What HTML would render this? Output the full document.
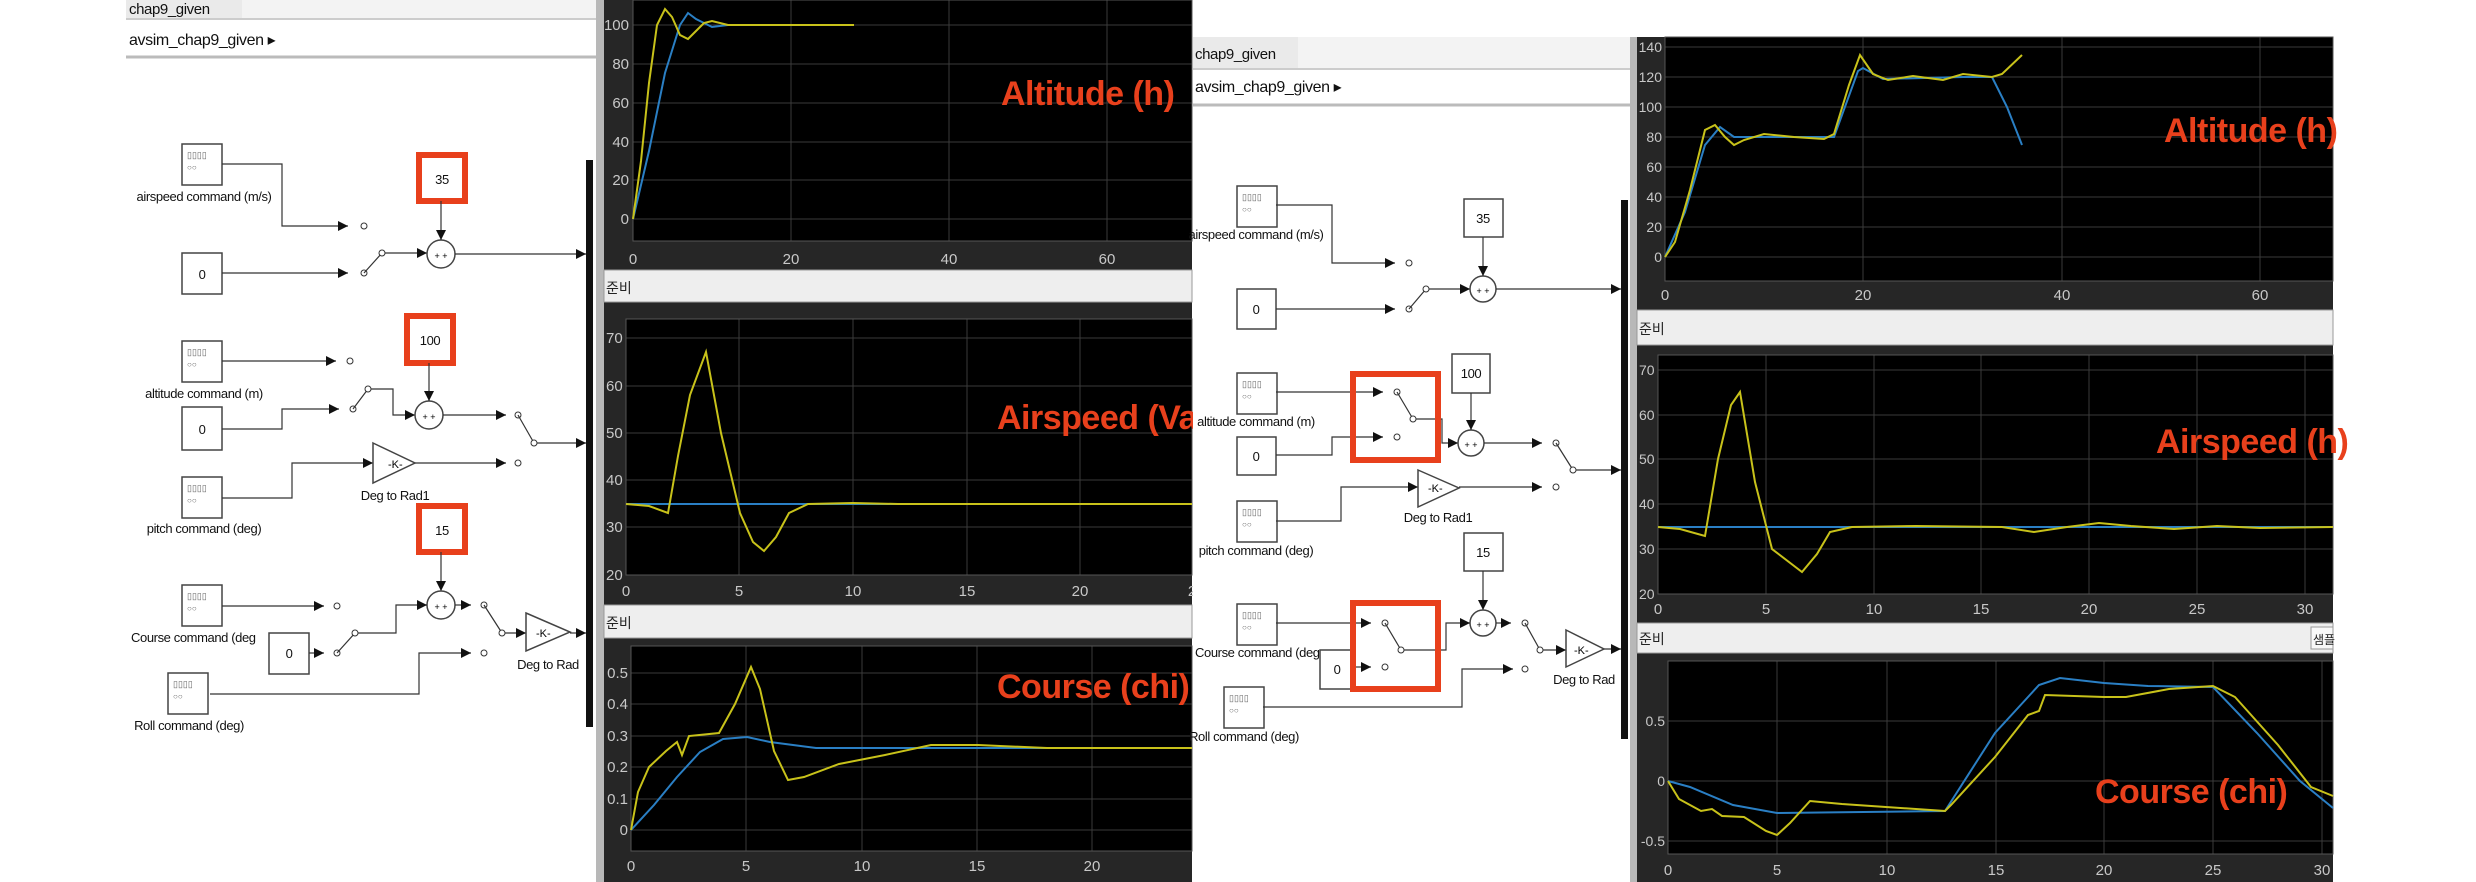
<!DOCTYPE html>
<html><head><meta charset="utf-8"><style>
html,body{margin:0;padding:0;background:#fff;}
svg{display:block;}
text{font-family:"Liberation Sans","Noto Sans CJK KR",sans-serif;}
.lb{font-size:13px;fill:#111;letter-spacing:-0.4px;}
.tk{font-size:15px;fill:#c8c8c8;}
.ttl{font-size:34px;font-weight:bold;fill:#e8401c;letter-spacing:-0.5px;}
.ln{stroke:#333;stroke-width:1.2;fill:none;}
.gr{stroke:#3a3a3a;stroke-width:1;}
.y{stroke:#c8c21a;stroke-width:2;fill:none;}
.b{stroke:#2a7fc4;stroke-width:2;fill:none;}
.blk{fill:#fff;stroke:#444;stroke-width:1.5;}
.sw{fill:#fff;stroke:#333;stroke-width:1;}
.red{fill:none;stroke:#e8401c;stroke-width:6;}
</style></head><body>
<svg width="2476" height="882" viewBox="0 0 2476 882" xmlns="http://www.w3.org/2000/svg">
<defs>
<marker id="a" viewBox="0 0 10 10" refX="10" refY="5" markerWidth="10" markerHeight="10" markerUnits="userSpaceOnUse" orient="auto"><path d="M0,0 L10,5 L0,10z" fill="#111"/></marker>
<g id="fw"><rect x="0" y="0" width="40" height="41" class="blk"/><text x="5" y="14" style="font-size:9px;fill:#666">▯▯▯▯</text><text x="5" y="26" style="font-size:8px;fill:#666">○○</text></g>
</defs>

<!-- ===== LEFT SIMULINK PANEL ===== -->
<rect x="126" y="0" width="478" height="882" fill="#fff"/>
<rect x="126" y="0" width="116" height="19" fill="#eaeaea"/>
<text x="129" y="14" class="lb" style="font-size:15px">chap9_given</text>
<rect x="242" y="0" width="362" height="19" fill="#f3f3f3"/>
<line x1="126" y1="19" x2="604" y2="19" stroke="#ccc" stroke-width="2"/>
<text x="129" y="45" class="lb" style="font-size:16px">avsim_chap9_given ▸</text>
<line x1="126" y1="57" x2="604" y2="57" stroke="#bbb" stroke-width="3"/>

<!-- row1 -->
<use href="#fw" x="182" y="144"/>
<text x="204" y="201" class="lb" text-anchor="middle">airspeed command (m/s)</text>
<polyline points="222,164 282,164 282,226 348,226" class="ln" marker-end="url(#a)"/>
<circle cx="364" cy="226" r="3" class="sw"/>
<rect x="182" y="253" width="40" height="41" class="blk"/><text x="202" y="279" class="lb" text-anchor="middle">0</text>
<polyline points="222,273 348,273" class="ln" marker-end="url(#a)"/>
<circle cx="364" cy="273" r="3" class="sw"/>
<line x1="364" y1="273" x2="382" y2="253" class="ln"/><circle cx="382" cy="253" r="3" class="sw"/>
<polyline points="385,253 427,253" class="ln" marker-end="url(#a)"/>
<circle cx="441" cy="254" r="14" class="blk"/><text x="441" y="259" style="font-size:9px" text-anchor="middle">+ +</text>
<rect x="421" y="157" width="43" height="42" fill="#fff" stroke="#444"/><rect x="419" y="155" width="46" height="46" class="red"/>
<text x="442" y="184" class="lb" text-anchor="middle">35</text>
<polyline points="441,201 441,240" class="ln" marker-end="url(#a)"/>
<polyline points="455,254 586,254" class="ln" marker-end="url(#a)"/>

<!-- row2 -->
<use href="#fw" x="182" y="341"/>
<text x="204" y="398" class="lb" text-anchor="middle">altitude command (m)</text>
<polyline points="222,361 336,361" class="ln" marker-end="url(#a)"/><circle cx="350" cy="361" r="3" class="sw"/>
<rect x="182" y="407" width="40" height="43" class="blk"/><text x="202" y="434" class="lb" text-anchor="middle">0</text>
<polyline points="222,429 282,429 282,409 339,409" class="ln" marker-end="url(#a)"/><circle cx="353" cy="409" r="3" class="sw"/>
<line x1="353" y1="409" x2="368" y2="389" class="ln"/><circle cx="368" cy="389" r="3" class="sw"/>
<polyline points="371,389 393,389 393,415 415,415" class="ln" marker-end="url(#a)"/>
<circle cx="429" cy="415" r="14" class="blk"/><text x="429" y="420" style="font-size:9px" text-anchor="middle">+ +</text>
<rect x="409" y="318" width="43" height="43" fill="#fff" stroke="#444"/><rect x="407" y="316" width="46" height="47" class="red"/>
<text x="430" y="345" class="lb" text-anchor="middle">100</text>
<polyline points="429,363 429,401" class="ln" marker-end="url(#a)"/>
<polyline points="443,415 506,415" class="ln" marker-end="url(#a)"/><circle cx="518" cy="415" r="3" class="sw"/>
<line x1="518" y1="415" x2="534" y2="443" class="ln"/><circle cx="534" cy="443" r="3" class="sw"/>
<polyline points="537,443 586,443" class="ln" marker-end="url(#a)"/>

<!-- pitch -->
<use href="#fw" x="182" y="477"/>
<text x="204" y="533" class="lb" text-anchor="middle">pitch command (deg)</text>
<polyline points="222,498 292,498 292,463 373,463" class="ln" marker-end="url(#a)"/>
<polygon points="373,443 415,463 373,483" class="blk"/><text x="388" y="468" style="font-size:11px">-K-</text>
<text x="395" y="500" class="lb" text-anchor="middle">Deg to Rad1</text>
<polyline points="415,463 506,463" class="ln" marker-end="url(#a)"/><circle cx="518" cy="463" r="3" class="sw"/>

<!-- course -->
<rect x="421" y="508" width="43" height="42" fill="#fff" stroke="#444"/><rect x="419" y="506" width="46" height="46" class="red"/>
<text x="442" y="535" class="lb" text-anchor="middle">15</text>
<polyline points="441,552 441,591" class="ln" marker-end="url(#a)"/>
<circle cx="441" cy="605" r="14" class="blk"/><text x="441" y="610" style="font-size:9px" text-anchor="middle">+ +</text>
<use href="#fw" x="182" y="585"/>
<text x="131" y="642" class="lb">Course command (deg</text>
<polyline points="222,606 324,606" class="ln" marker-end="url(#a)"/><circle cx="337" cy="606" r="3" class="sw"/>
<rect x="269" y="633" width="40" height="41" class="blk"/><text x="289" y="658" class="lb" text-anchor="middle">0</text>
<polyline points="309,653 324,653" class="ln" marker-end="url(#a)"/><circle cx="337" cy="653" r="3" class="sw"/>
<line x1="337" y1="653" x2="355" y2="633" class="ln"/><circle cx="355" cy="633" r="3" class="sw"/>
<polyline points="358,633 396,633 396,605 427,605" class="ln" marker-end="url(#a)"/>
<polyline points="455,605 471,605" class="ln" marker-end="url(#a)"/><circle cx="484" cy="605" r="3" class="sw"/>
<line x1="484" y1="605" x2="502" y2="633" class="ln"/><circle cx="502" cy="633" r="3" class="sw"/>
<polyline points="505,633 526,633" class="ln" marker-end="url(#a)"/>
<polygon points="526,613 570,632 526,651" class="blk"/><text x="536" y="637" style="font-size:11px">-K-</text>
<text x="548" y="669" class="lb" text-anchor="middle">Deg to Rad</text>
<polyline points="570,633 586,633" class="ln" marker-end="url(#a)"/>
<use href="#fw" x="168" y="673"/>
<text x="189" y="730" class="lb" text-anchor="middle">Roll command (deg)</text>
<polyline points="210,694 419,694 419,653 471,653" class="ln" marker-end="url(#a)"/><circle cx="484" cy="653" r="3" class="sw"/>
<rect x="586" y="160" width="7" height="567" fill="#111"/>

<!-- ===== LEFT PLOT WINDOW ===== -->
<rect x="596" y="0" width="8" height="882" fill="#b8b8b8"/>
<rect x="604" y="0" width="588" height="882" fill="#262626"/>
<!-- plot1 -->
<rect x="633" y="0" width="559" height="241" fill="#000"/>
<g class="gr"><line x1="791" y1="0" x2="791" y2="241"/><line x1="949" y1="0" x2="949" y2="241"/><line x1="1107" y1="0" x2="1107" y2="241"/>
<line x1="633" y1="25" x2="1192" y2="25"/><line x1="633" y1="64" x2="1192" y2="64"/><line x1="633" y1="103" x2="1192" y2="103"/><line x1="633" y1="142" x2="1192" y2="142"/><line x1="633" y1="180" x2="1192" y2="180"/><line x1="633" y1="219" x2="1192" y2="219"/></g>
<rect x="633" y="0" width="559" height="241" fill="none" stroke="#555"/>
<g class="tk" text-anchor="end"><text x="629" y="30">100</text><text x="629" y="69">80</text><text x="629" y="108">60</text><text x="629" y="147">40</text><text x="629" y="185">20</text><text x="629" y="224">0</text></g>
<g class="tk" text-anchor="middle"><text x="633" y="264">0</text><text x="791" y="264">20</text><text x="949" y="264">40</text><text x="1107" y="264">60</text></g>
<polyline class="b" points="633,219 649,151 665,73 680,25 688,13 696,19 712,27 728,25 854,25"/>
<polyline class="y" points="633,219 641,161 649,83 657,25 665,9 672,17 680,35 688,39 696,31 704,23 712,21 728,25 854,25"/>
<text x="1001" y="105" class="ttl">Altitude (h)</text>
<rect x="604" y="270" width="588" height="32" fill="#eee" stroke="#999"/>
<text x="606" y="293" style="font-size:14px;fill:#222">준비</text>
<!-- plot2 -->
<rect x="626" y="319" width="566" height="256" fill="#000"/>
<g class="gr"><line x1="739" y1="319" x2="739" y2="575"/><line x1="853" y1="319" x2="853" y2="575"/><line x1="967" y1="319" x2="967" y2="575"/><line x1="1080" y1="319" x2="1080" y2="575"/>
<line x1="626" y1="338" x2="1192" y2="338"/><line x1="626" y1="386" x2="1192" y2="386"/><line x1="626" y1="433" x2="1192" y2="433"/><line x1="626" y1="480" x2="1192" y2="480"/><line x1="626" y1="527" x2="1192" y2="527"/></g>
<rect x="626" y="319" width="566" height="256" fill="none" stroke="#555"/>
<g class="tk"><text x="606" y="343">70</text><text x="606" y="391">60</text><text x="606" y="438">50</text><text x="606" y="485">40</text><text x="606" y="532">30</text><text x="606" y="580">20</text></g>
<g class="tk" text-anchor="middle"><text x="626" y="596">0</text><text x="739" y="596">5</text><text x="853" y="596">10</text><text x="967" y="596">15</text><text x="1080" y="596">20</text><text x="1192" y="596">2</text></g>
<line x1="626" y1="504" x2="1192" y2="504" class="b"/>
<polyline class="y" points="626,504 649,506 668,513 678,456 690,395 706,352 721,433 740,513 753,542 764,551 776,537 789,513 808,504 853,503 898,504 1192,504"/>
<text x="997" y="429" class="ttl">Airspeed (Va)</text>
<rect x="604" y="605" width="588" height="33" fill="#eee" stroke="#999"/>
<text x="606" y="628" style="font-size:14px;fill:#222">준비</text>
<!-- plot3 -->
<rect x="631" y="646" width="561" height="205" fill="#000"/>
<g class="gr"><line x1="746" y1="646" x2="746" y2="851"/><line x1="862" y1="646" x2="862" y2="851"/><line x1="977" y1="646" x2="977" y2="851"/><line x1="1092" y1="646" x2="1092" y2="851"/>
<line x1="631" y1="673" x2="1192" y2="673"/><line x1="631" y1="704" x2="1192" y2="704"/><line x1="631" y1="736" x2="1192" y2="736"/><line x1="631" y1="767" x2="1192" y2="767"/><line x1="631" y1="799" x2="1192" y2="799"/><line x1="631" y1="830" x2="1192" y2="830"/></g>
<rect x="631" y="646" width="561" height="205" fill="none" stroke="#555"/>
<g class="tk" text-anchor="end"><text x="628" y="678">0.5</text><text x="628" y="709">0.4</text><text x="628" y="741">0.3</text><text x="628" y="772">0.2</text><text x="628" y="804">0.1</text><text x="628" y="835">0</text></g>
<g class="tk" text-anchor="middle"><text x="631" y="871">0</text><text x="746" y="871">5</text><text x="862" y="871">10</text><text x="977" y="871">15</text><text x="1092" y="871">20</text></g>
<polyline class="b" points="631,830 654,805 677,777 700,752 723,739 747,737 770,742 816,748 1192,748"/>
<polyline class="y" points="631,830 638,792 649,767 666,751 677,742 682,755 689,736 719,733 735,704 751,667 760,689 774,751 788,780 804,777 839,764 885,755 931,745 978,745 1047,748 1192,748"/>
<text x="997" y="698" class="ttl">Course (chi)</text>

<!-- ===== RIGHT SIMULINK PANEL ===== -->
<rect x="1193" y="37" width="444" height="845" fill="#fff"/>
<rect x="1193" y="37" width="105" height="32" fill="#eaeaea"/>
<rect x="1298" y="37" width="339" height="32" fill="#f3f3f3"/>
<text x="1195" y="59" class="lb" style="font-size:15px">chap9_given</text>
<line x1="1193" y1="69" x2="1637" y2="69" stroke="#ccc" stroke-width="2"/>
<text x="1195" y="92" class="lb" style="font-size:16px">avsim_chap9_given ▸</text>
<line x1="1193" y1="105" x2="1637" y2="105" stroke="#bbb" stroke-width="3"/>

<use href="#fw" x="1237" y="186"/>
<text x="1256" y="239" class="lb" text-anchor="middle">airspeed command (m/s)</text>
<polyline points="1276,205 1332,205 1332,263 1395,263" class="ln" marker-end="url(#a)"/><circle cx="1409" cy="263" r="3" class="sw"/>
<rect x="1237" y="289" width="39" height="40" class="blk"/><text x="1256" y="314" class="lb" text-anchor="middle">0</text>
<polyline points="1276,309 1395,309" class="ln" marker-end="url(#a)"/><circle cx="1409" cy="309" r="3" class="sw"/>
<line x1="1409" y1="309" x2="1426" y2="289" class="ln"/><circle cx="1426" cy="289" r="3" class="sw"/>
<polyline points="1429,289 1470,289" class="ln" marker-end="url(#a)"/>
<circle cx="1483" cy="289" r="13" class="blk"/><text x="1483" y="294" style="font-size:9px" text-anchor="middle">+ +</text>
<rect x="1464" y="199" width="39" height="38" class="blk"/><text x="1483" y="223" class="lb" text-anchor="middle">35</text>
<polyline points="1483,237 1483,276" class="ln" marker-end="url(#a)"/>
<polyline points="1496,289 1621,289" class="ln" marker-end="url(#a)"/>

<use href="#fw" x="1237" y="373"/>
<text x="1256" y="426" class="lb" text-anchor="middle">altitude command (m)</text>
<polyline points="1276,392 1383,392" class="ln" marker-end="url(#a)"/><circle cx="1397" cy="392" r="3" class="sw"/>
<line x1="1397" y1="392" x2="1413" y2="419" class="ln"/><circle cx="1413" cy="419" r="3" class="sw"/>
<rect x="1237" y="437" width="39" height="38" class="blk"/><text x="1256" y="461" class="lb" text-anchor="middle">0</text>
<polyline points="1276,455 1332,455 1332,437 1383,437" class="ln" marker-end="url(#a)"/><circle cx="1397" cy="437" r="3" class="sw"/>
<polyline points="1416,419 1442,419 1442,443 1458,443" class="ln" marker-end="url(#a)"/>
<rect x="1353" y="374" width="85" height="86" class="red"/>
<circle cx="1471" cy="443" r="13" class="blk"/><text x="1471" y="448" style="font-size:9px" text-anchor="middle">+ +</text>
<rect x="1452" y="354" width="38" height="39" class="blk"/><text x="1471" y="378" class="lb" text-anchor="middle">100</text>
<polyline points="1471,393 1471,430" class="ln" marker-end="url(#a)"/>
<polyline points="1484,443 1542,443" class="ln" marker-end="url(#a)"/><circle cx="1556" cy="443" r="3" class="sw"/>
<line x1="1556" y1="443" x2="1573" y2="470" class="ln"/><circle cx="1573" cy="470" r="3" class="sw"/>
<polyline points="1576,470 1621,470" class="ln" marker-end="url(#a)"/>

<use href="#fw" x="1237" y="501"/>
<text x="1256" y="555" class="lb" text-anchor="middle">pitch command (deg)</text>
<polyline points="1276,521 1341,521 1341,487 1418,487" class="ln" marker-end="url(#a)"/>
<polygon points="1418,470 1459,488 1418,507" class="blk"/><text x="1428" y="492" style="font-size:11px">-K-</text>
<text x="1438" y="522" class="lb" text-anchor="middle">Deg to Rad1</text>
<polyline points="1459,487 1542,487" class="ln" marker-end="url(#a)"/><circle cx="1556" cy="487" r="3" class="sw"/>

<rect x="1464" y="533" width="39" height="38" class="blk"/><text x="1483" y="557" class="lb" text-anchor="middle">15</text>
<polyline points="1483,571 1483,610" class="ln" marker-end="url(#a)"/>
<circle cx="1483" cy="623" r="13" class="blk"/><text x="1483" y="628" style="font-size:9px" text-anchor="middle">+ +</text>
<use href="#fw" x="1237" y="604"/>
<text x="1195" y="657" class="lb">Course command (deg</text>
<polyline points="1276,623 1371,623" class="ln" marker-end="url(#a)"/><circle cx="1385" cy="623" r="3" class="sw"/>
<line x1="1385" y1="623" x2="1401" y2="650" class="ln"/><circle cx="1401" cy="650" r="3" class="sw"/>
<rect x="1320" y="650" width="35" height="39" class="blk"/><text x="1337" y="674" class="lb" text-anchor="middle">0</text>
<polyline points="1355,667 1371,667" class="ln" marker-end="url(#a)"/><circle cx="1385" cy="667" r="3" class="sw"/>
<polyline points="1404,650 1446,650 1446,623 1470,623" class="ln" marker-end="url(#a)"/>
<rect x="1353" y="603" width="85" height="86" class="red"/>
<polyline points="1496,623 1511,623" class="ln" marker-end="url(#a)"/><circle cx="1525" cy="623" r="3" class="sw"/>
<line x1="1525" y1="623" x2="1540" y2="650" class="ln"/><circle cx="1540" cy="650" r="3" class="sw"/>
<polyline points="1543,650 1566,650" class="ln" marker-end="url(#a)"/>
<polygon points="1566,630 1604,649 1566,667" class="blk"/><text x="1574" y="654" style="font-size:11px">-K-</text>
<text x="1584" y="684" class="lb" text-anchor="middle">Deg to Rad</text>
<polyline points="1604,649 1621,649" class="ln" marker-end="url(#a)"/>
<use href="#fw" x="1224" y="687"/>
<text x="1244" y="741" class="lb" text-anchor="middle">Roll command (deg)</text>
<polyline points="1263,707 1462,707 1462,669 1513,669" class="ln" marker-end="url(#a)"/><circle cx="1525" cy="669" r="3" class="sw"/>
<rect x="1621" y="200" width="7" height="539" fill="#111"/>

<!-- ===== RIGHT PLOT WINDOW ===== -->
<rect x="1630" y="37" width="7" height="845" fill="#b8b8b8"/>
<rect x="1637" y="37" width="696" height="845" fill="#262626"/>
<rect x="1665" y="37" width="668" height="244" fill="#000"/>
<g class="gr"><line x1="1863" y1="37" x2="1863" y2="281"/><line x1="2062" y1="37" x2="2062" y2="281"/><line x1="2260" y1="37" x2="2260" y2="281"/>
<line x1="1665" y1="47" x2="2333" y2="47"/><line x1="1665" y1="77" x2="2333" y2="77"/><line x1="1665" y1="107" x2="2333" y2="107"/><line x1="1665" y1="137" x2="2333" y2="137"/><line x1="1665" y1="167" x2="2333" y2="167"/><line x1="1665" y1="197" x2="2333" y2="197"/><line x1="1665" y1="227" x2="2333" y2="227"/><line x1="1665" y1="257" x2="2333" y2="257"/></g>
<rect x="1665" y="37" width="668" height="244" fill="none" stroke="#555"/>
<g class="tk" text-anchor="end" style="font-size:14px"><text x="1662" y="52">140</text><text x="1662" y="82">120</text><text x="1662" y="112">100</text><text x="1662" y="142">80</text><text x="1662" y="172">60</text><text x="1662" y="202">40</text><text x="1662" y="232">20</text><text x="1662" y="262">0</text></g>
<g class="tk" text-anchor="middle"><text x="1665" y="300">0</text><text x="1863" y="300">20</text><text x="2062" y="300">40</text><text x="2260" y="300">60</text></g>
<polyline class="b" points="1665,257 1685,212 1705,145 1720,127 1734,137 1764,137 1834,137 1858,71 1863,68 1883,79 1963,77 1992,77 2007,107 2022,145"/>
<polyline class="y" points="1665,257 1675,242 1690,190 1705,130 1715,125 1725,137 1734,145 1744,140 1764,134 1794,137 1824,139 1834,134 1849,85 1860,55 1873,74 1888,80 1913,76 1943,80 1963,74 1992,77 2002,74 2022,55"/>
<text x="2164" y="142" class="ttl">Altitude (h)</text>
<rect x="1637" y="310" width="696" height="35" fill="#eee" stroke="#999"/>
<text x="1639" y="334" style="font-size:14px;fill:#222">준비</text>
<rect x="1658" y="355" width="675" height="239" fill="#000"/>
<g class="gr"><line x1="1766" y1="355" x2="1766" y2="594"/><line x1="1874" y1="355" x2="1874" y2="594"/><line x1="1981" y1="355" x2="1981" y2="594"/><line x1="2089" y1="355" x2="2089" y2="594"/><line x1="2197" y1="355" x2="2197" y2="594"/><line x1="2305" y1="355" x2="2305" y2="594"/>
<line x1="1658" y1="370" x2="2333" y2="370"/><line x1="1658" y1="415" x2="2333" y2="415"/><line x1="1658" y1="459" x2="2333" y2="459"/><line x1="1658" y1="504" x2="2333" y2="504"/><line x1="1658" y1="549" x2="2333" y2="549"/></g>
<rect x="1658" y="355" width="675" height="239" fill="none" stroke="#555"/>
<g class="tk" style="font-size:14px"><text x="1639" y="375">70</text><text x="1639" y="420">60</text><text x="1639" y="464">50</text><text x="1639" y="509">40</text><text x="1639" y="554">30</text><text x="1639" y="599">20</text></g>
<g class="tk" text-anchor="middle"><text x="1658" y="614">0</text><text x="1766" y="614">5</text><text x="1874" y="614">10</text><text x="1981" y="614">15</text><text x="2089" y="614">20</text><text x="2197" y="614">25</text><text x="2305" y="614">30</text></g>
<line x1="1658" y1="527" x2="2333" y2="527" class="b"/>
<polyline class="y" points="1658,527 1680,529 1705,536 1718,459 1731,405 1740,392 1755,482 1772,549 1802,572 1817,554 1830,532 1852,527 1916,526 2002,527 2034,532 2067,527 2099,523 2131,526 2174,529 2217,526 2260,528 2333,527"/>
<text x="2156" y="453" class="ttl">Airspeed (h)</text>
<rect x="1637" y="623" width="696" height="30" fill="#eee" stroke="#999"/>
<text x="1639" y="644" style="font-size:14px;fill:#222">준비</text>
<rect x="2311" y="627" width="22" height="22" fill="#f8f8f8" stroke="#999"/><text x="2313" y="644" style="font-size:12px;fill:#222">샘플</text>
<rect x="1668" y="661" width="665" height="193" fill="#000"/>
<g class="gr"><line x1="1777" y1="661" x2="1777" y2="854"/><line x1="1887" y1="661" x2="1887" y2="854"/><line x1="1996" y1="661" x2="1996" y2="854"/><line x1="2104" y1="661" x2="2104" y2="854"/><line x1="2213" y1="661" x2="2213" y2="854"/><line x1="2322" y1="661" x2="2322" y2="854"/>
<line x1="1668" y1="721" x2="2333" y2="721"/><line x1="1668" y1="781" x2="2333" y2="781"/><line x1="1668" y1="841" x2="2333" y2="841"/></g>
<rect x="1668" y="661" width="665" height="193" fill="none" stroke="#555"/>
<g class="tk" text-anchor="end" style="font-size:14px"><text x="1665" y="726">0.5</text><text x="1665" y="786">0</text><text x="1665" y="846">-0.5</text></g>
<g class="tk" text-anchor="middle"><text x="1668" y="875">0</text><text x="1777" y="875">5</text><text x="1887" y="875">10</text><text x="1996" y="875">15</text><text x="2104" y="875">20</text><text x="2213" y="875">25</text><text x="2322" y="875">30</text></g>
<polyline class="b" points="1668,781 1690,787 1733,805 1777,813 1945,811 1995,733 2039,685 2060,678 2104,683 2148,686 2213,687 2257,733 2300,781 2333,808"/>
<polyline class="y" points="1668,781 1679,799 1701,811 1712,809 1722,816 1744,817 1766,831 1777,835 1790,823 1810,801 1842,804 1945,811 1951,805 1995,757 2028,715 2039,711 2045,695 2104,697 2126,697 2169,689 2213,686 2235,697 2278,745 2311,787 2333,796"/>
<text x="2095" y="803" class="ttl">Course (chi)</text>
</svg>
</body></html>
